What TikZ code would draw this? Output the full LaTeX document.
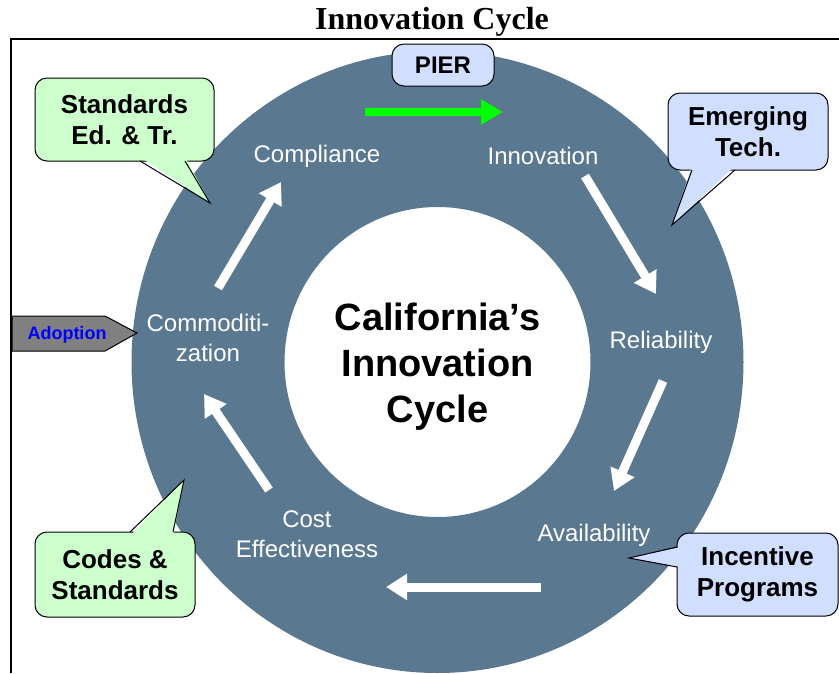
\documentclass[tikz,border=0pt]{standalone}
\usepackage{fontspec}
\setmainfont{Liberation Sans}
\newfontfamily\titlefont{Liberation Serif}
\usetikzlibrary{arrows.meta,calc}
\definecolor{ringblue}{RGB}{91,120,145}
\definecolor{greenbox}{RGB}{204,255,204}
\definecolor{bluebox}{RGB}{208,222,255}
\definecolor{arrowgreen}{RGB}{0,255,0}
\definecolor{adoptgray}{RGB}{128,128,128}
\begin{document}
\begin{tikzpicture}[x=1pt, y=-1pt,
    stage/.style = {text=white, align=center, font=\fontsize{24}{30}\selectfont},
    callg/.style = {draw=black, line width=1pt, fill=greenbox, rounded corners=12pt, inner sep=0pt,
                    align=center, font=\fontsize{26}{31}\selectfont\bfseries},
    callb/.style = {callg, fill=bluebox},
    flow/.style = {draw=white, line width=9pt, -{Triangle[length=21pt,width=25pt]}}]
    \useasboundingbox (0,0) rectangle (839,673);
    % title
    \node[font=\titlefont\fontsize{32}{32}\selectfont\bfseries] (title) at (432,22) {Innovation Cycle};
    % frame
    \path[draw, line width=2pt](11,673)--(11,39)--(839,39);
    % ring
    \coordinate(mid)at(437.5,362);
    \path[fill=ringblue, even odd rule](mid)ellipse[x radius=306pt, y radius=311pt]
        (mid)ellipse[x radius=153pt, y radius=155pt];
    \node[font=\fontsize{38}{46}\selectfont\bfseries, align=center] (ctr) at (437.5,367) {California’s\\Innovation\\Cycle};
    % stages
    \node[stage] (compl) at (317,156) {Compliance};
    \node[stage] (innov) at (543,156) {Innovation};
    \node[stage] (relia) at (661,342) {Reliability};
    \node[stage] (avail) at (594,535) {Availability};
    \node[stage] (cost) at (307,534) {Cost\\Effectiveness};
    \node[stage] (commod) at (208,338) {Commoditi-\\zation};
    % arrows between stages
    \coordinate(a1s)at(218,288); \coordinate(a1e)at(281,182);
    \coordinate(a2s)at(585,176); \coordinate(a2e)at(656,294);
    \coordinate(a3s)at(663,381); \coordinate(a3e)at(614,491);
    \coordinate(a4s)at(541,587); \coordinate(a4e)at(386,587);
    \coordinate(a5s)at(269,490); \coordinate(a5e)at(204,394);
    \path[flow](a1s)--(a1e);
    \path[flow](a2s)--(a2e);
    \path[flow](a3s)--(a3e);
    \path[flow](a4s)--(a4e);
    \path[flow](a5s)--(a5e);
    \coordinate(gs)at(365,112); \coordinate(ge)at(503,112);
    \path[draw=arrowgreen, line width=8pt, -{Triangle[length=22pt,width=24pt]}](gs)--(ge);
    % PIER
    \node[callb, minimum width=102pt, minimum height=42pt, font=\fontsize{24}{28}\selectfont\bfseries] (pier) at (443,65) {PIER};
    % Standards Ed. & Tr.
    \node[callg, minimum width=179pt, minimum height=83pt] (stded) at (124.5,119.5) {Standards\\Ed. \& Tr.};
    \path[fill=greenbox](140,157)--(210,203)--(185,157)--cycle;
    \path[draw, line width=1pt](140,161)--(210,203)--(185,161);
    % Emerging Tech.
    \node[callb, minimum width=160pt, minimum height=77pt] (emtec) at (748,131.5) {Emerging\\Tech.};
    \path[fill=bluebox](692,166)--(672,225)--(735,166)--cycle;
    \path[draw, line width=1pt](692,170)--(672,225)--(735,170);
    % Codes & Standards
    \node[callg, minimum width=160pt, minimum height=85pt] (codst) at (115,574.5) {Codes \&\\Standards};
    \path[fill=greenbox](130,536)--(184,480)--(173,536)--cycle;
    \path[draw, line width=1pt](130,532)--(184,480)--(173,532);
    % Incentive Programs
    \node[callb, minimum width=161pt, minimum height=83pt] (incpr) at (757.5,574.5) {Incentive\\Programs};
    \path[fill=bluebox](681,547)--(629,558)--(681,567)--cycle;
    \path[draw, line width=1pt](677,547)--(629,558)--(677,567);
    % Adoption
    \path[draw, line width=1pt, fill=adoptgray](12,316)--(105,316)--(137,333)--(105,351)--(12,351)--cycle;
    \node[text=blue, font=\fontsize{18}{18}\selectfont\bfseries] (adopt) at (67,334.5) {Adoption};
\end{tikzpicture}
\end{document}
